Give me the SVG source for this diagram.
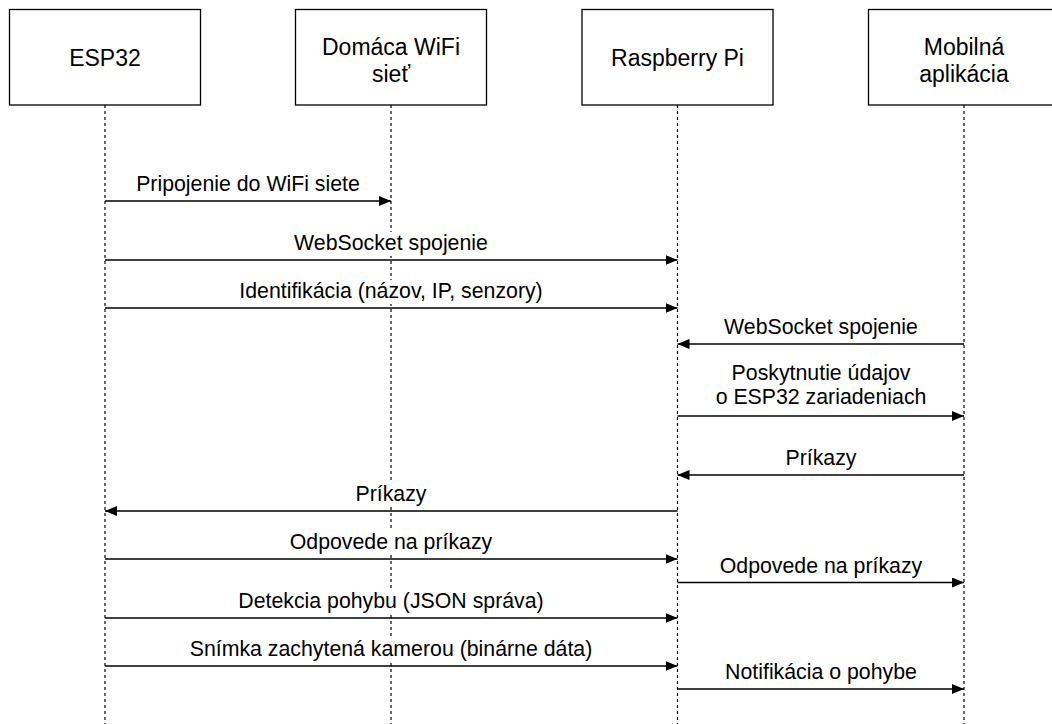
<svg xmlns="http://www.w3.org/2000/svg" width="1052" height="724" viewBox="0 0 1052 724">
<defs>
<marker id="ah" markerWidth="12" markerHeight="10" refX="12" refY="5" orient="auto" markerUnits="userSpaceOnUse">
<path d="M0,0 L12,5 L0,10 Z" fill="#000"/>
</marker>
<style>
.box{fill:#fff;stroke:#000;stroke-width:1.3}
.life{stroke:#000;stroke-width:1.2;stroke-dasharray:3 3;fill:none}
.msg{stroke:#000;stroke-width:1.3;fill:none;marker-end:url(#ah)}
.bg{fill:#fff}
.h{font-family:"Liberation Sans",Arial,sans-serif;font-size:23px;fill:#000;text-anchor:middle}
.l{font-family:"Liberation Sans",Arial,sans-serif;font-size:21.3px;fill:#000;text-anchor:middle}
</style>
</defs>
<rect width="1052" height="724" fill="#fff"/>
<g id="lifelines">
<line class="life" x1="105" y1="105" x2="105" y2="724"/>
<line class="life" x1="391" y1="105" x2="391" y2="724"/>
<line class="life" x1="677.5" y1="105" x2="677.5" y2="724"/>
<line class="life" x1="964" y1="105" x2="964" y2="724"/>
</g>
<g id="esp32">
<rect class="box" x="9.5" y="9.5" width="191" height="95.5"/>
<text class="h" x="105" y="66">ESP32</text>
</g>
<g id="wifi">
<rect class="box" x="295.5" y="9.5" width="191" height="95.5"/>
<text class="h" x="391" y="55">Domáca WiFi</text>
<text class="h" x="391" y="82">sieť</text>
</g>
<g id="rpi">
<rect class="box" x="582" y="9.5" width="191" height="95.5"/>
<text class="h" x="677.5" y="66">Raspberry Pi</text>
</g>
<g id="mobile">
<rect class="box" x="868.5" y="9.5" width="191" height="95.5"/>
<text class="h" x="964" y="55">Mobilná</text>
<text class="h" x="964" y="82">aplikácia</text>
</g>
<g id="connectors">
<line class="msg" x1="105" y1="201" x2="391" y2="201"/>
<text class="l" x="248" y="191">Pripojenie do WiFi siete</text>
<line class="msg" x1="105" y1="260" x2="677.5" y2="260"/>
<rect class="bg" x="292" y="232" width="198" height="24"/>
<text class="l" x="391" y="250">WebSocket spojenie</text>
<line class="msg" x1="105" y1="308" x2="677.5" y2="308"/>
<rect class="bg" x="235" y="280" width="312" height="24"/>
<text class="l" x="391" y="298">Identifikácia (názov, IP, senzory)</text>
<line class="msg" x1="964" y1="344" x2="677.5" y2="344"/>
<text class="l" x="821" y="334">WebSocket spojenie</text>
<line class="msg" x1="677.5" y1="416" x2="964" y2="416"/>
<text class="l" x="821" y="380">Poskytnutie údajov</text>
<text class="l" x="821" y="404">o ESP32 zariadeniach</text>
<line class="msg" x1="964" y1="475" x2="677.5" y2="475"/>
<text class="l" x="821" y="465">Príkazy</text>
<line class="msg" x1="677.5" y1="511" x2="105" y2="511"/>
<rect class="bg" x="354" y="483" width="74" height="24"/>
<text class="l" x="391" y="501">Príkazy</text>
<line class="msg" x1="105" y1="559" x2="677.5" y2="559"/>
<rect class="bg" x="288" y="531" width="206" height="24"/>
<text class="l" x="391" y="549">Odpovede na príkazy</text>
<line class="msg" x1="677.5" y1="582.5" x2="964" y2="582.5"/>
<text class="l" x="821" y="572.5">Odpovede na príkazy</text>
<line class="msg" x1="105" y1="618" x2="677.5" y2="618"/>
<rect class="bg" x="237" y="590" width="308" height="24"/>
<text class="l" x="391" y="608">Detekcia pohybu (JSON správa)</text>
<line class="msg" x1="105" y1="666" x2="677.5" y2="666"/>
<rect class="bg" x="188" y="638" width="406" height="24"/>
<text class="l" x="391" y="656">Snímka zachytená kamerou (binárne dáta)</text>
<line class="msg" x1="677.5" y1="689" x2="964" y2="689"/>
<text class="l" x="821" y="679">Notifikácia o pohybe</text>
</g>
</svg>
